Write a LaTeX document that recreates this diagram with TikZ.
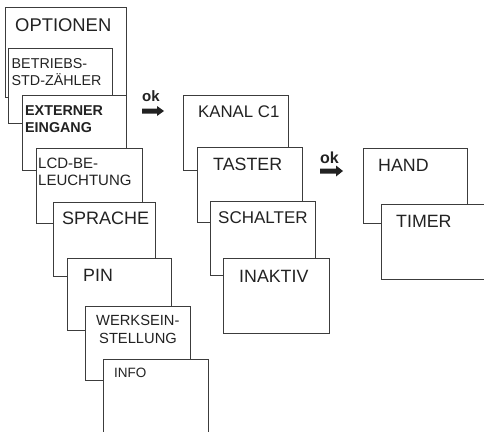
\documentclass[tikz,border=0pt]{standalone}
\usepackage{fontspec}
\setmainfont{Liberation Sans}
\definecolor{lc}{HTML}{3C3C3C}
\definecolor{tc}{HTML}{222222}
\begin{document}
\begin{tikzpicture}[x=1pt,y=-1pt,
  menubox/.style={draw=lc, fill=white, line width=1.1pt, inner sep=0pt, anchor=north west},
  big/.style={text=tc, inner sep=0pt, anchor=base west, font=\fontsize{17.8}{20}\selectfont},
  small/.style={text=tc, inner sep=0pt, anchor=base west, font=\fontsize{14.3}{17}\selectfont},
  okl/.style={text=tc, inner sep=0pt, anchor=base west, font=\bfseries\fontsize{15}{17}\selectfont}]
\useasboundingbox (0,0) rectangle (484,431);
% left column
\node[menubox, minimum width=121pt, minimum height=90pt] (opt) at (5,7) {};
\node[menubox, minimum width=104pt, minimum height=75pt] (betr) at (8,48) {};
\node[menubox, minimum width=104pt, minimum height=75pt] (ext) at (22,95) {};
\node[menubox, minimum width=106pt, minimum height=75pt] (lcd) at (36,148) {};
\node[menubox, minimum width=102pt, minimum height=74pt] (spr) at (53,202) {};
\node[menubox, minimum width=104pt, minimum height=72pt] (pin) at (67,258) {};
\node[menubox, minimum width=105pt, minimum height=74pt] (werk) at (85,306) {};
\node[menubox, minimum width=105pt, minimum height=80pt] (info) at (103,359) {};
% middle column
\node[menubox, minimum width=105pt, minimum height=75pt] (kanal) at (183,95) {};
\node[menubox, minimum width=105pt, minimum height=75pt] (tast) at (197,147) {};
\node[menubox, minimum width=105pt, minimum height=74pt] (schal) at (210,201) {};
\node[menubox, minimum width=106pt, minimum height=75pt] (inak) at (223,258) {};
% right column
\node[menubox, minimum width=104pt, minimum height=75pt] (hand) at (363,148) {};
\node[menubox, minimum width=110pt, minimum height=75pt] (timer) at (381,204) {};
% labels
\node[big, font=\fontsize{18.4}{20}\selectfont] (toptn) at (15,31) {OPTIONEN};
\node[small] (tbetr1) at (11.5,68) {BETRIEBS-};
\node[small] (tbetr2) at (11.5,85) {STD-ZÄHLER};
\node[small, font=\bfseries\fontsize{14.3}{17}\selectfont] (text1) at (25,115) {EXTERNER};
\node[small, font=\bfseries\fontsize{14.3}{17}\selectfont] (text2) at (25,132) {EINGANG};
\node[small, font=\fontsize{15}{17}\selectfont] (tlcd1) at (38,168) {LCD-BE-};
\node[small, font=\fontsize{15}{17}\selectfont] (tlcd2) at (38,185) {LEUCHTUNG};
\node[big, font=\fontsize{18}{20}\selectfont] (tspr) at (62,224) {SPRACHE};
\node[big] (tpin) at (83,281) {PIN};
\node[small, font=\fontsize{14.7}{17}\selectfont] (twerk1) at (96,325) {WERKSEIN-};
\node[small, font=\fontsize{14.7}{17}\selectfont] (twerk2) at (99,343) {STELLUNG};
\node[small, font=\fontsize{13.5}{16}\selectfont] (tinfo) at (114,377) {INFO};
\node[big, font=\fontsize{16.8}{20}\selectfont] (tkanal) at (198,117) {KANAL C1};
\node[big] (ttast) at (213,170) {TASTER};
\node[big, font=\fontsize{17}{20}\selectfont] (tschal) at (218,223) {SCHALTER};
\node[big] (tinak) at (239,282) {INAKTIV};
\node[big] (thand) at (378,171) {HAND};
\node[big] (ttimer) at (396,227) {TIMER};
% ok arrows
\node[okl] (ok1) at (142,101) {ok};
\fill[tc] (142,108.5) -- (157,108.5) -- (157,106) -- (164,111) -- (157,116) -- (157,113.5) -- (142,113.5) -- cycle;
\node[okl, font=\bfseries\fontsize{16}{18}\selectfont] (ok2) at (320,163) {ok};
\fill[tc] (320,168.5) -- (336,168.5) -- (336,165.5) -- (343,171) -- (336,176.5) -- (336,173.5) -- (320,173.5) -- cycle;
\end{tikzpicture}
\end{document}
